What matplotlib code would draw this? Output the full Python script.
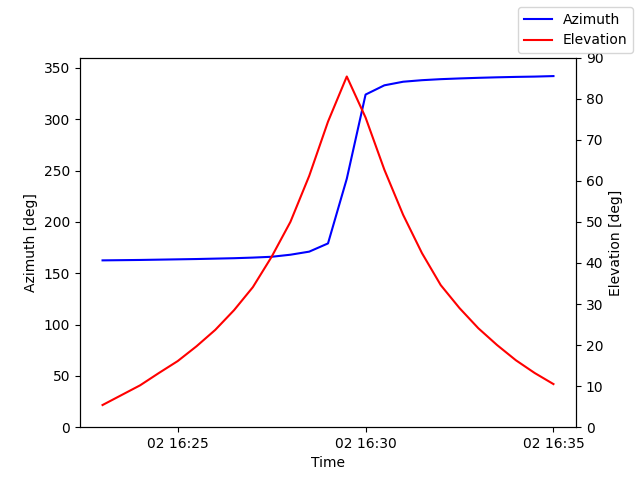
import numpy as np
import pandas as pd
import matplotlib
matplotlib.use('Agg')
import matplotlib.pyplot as plt
import matplotlib.dates as mdates

times = pd.date_range('2024-01-02 16:23:00', periods=25, freq='30s')
azimuth = [162.5, 162.7, 162.9, 163.2, 163.5, 163.8, 164.2, 164.6, 165.2, 166.0, 168.0, 171.0, 179.0,
           242.0, 324.0, 333.0, 336.5, 338.0, 339.0, 339.7, 340.3, 340.8, 341.2, 341.5, 342.0]
elevation = [5.4, 7.8, 10.2, 13.2, 16.1, 19.7, 23.7, 28.5, 34.1, 41.5, 50.0, 61.2, 74.4,
             85.4, 75.4, 62.7, 51.7, 42.4, 34.6, 29.0, 24.1, 20.0, 16.3, 13.2, 10.5]

fig, ax = plt.subplots(figsize=(6.4, 4.8))
ax.plot(times, azimuth, color='blue', label='Azimuth')
ax.set_ylim(0, 360)
ax.set_ylabel('Azimuth [deg]')
ax.set_xlabel('Time')
ax2 = ax.twinx()
ax2.plot(times, elevation, color='red', label='Elevation')
ax2.set_ylim(0, 90)
ax2.set_ylabel('Elevation [deg]')
ax.xaxis.set_major_locator(mdates.MinuteLocator(byminute=[25, 30, 35]))
ax.xaxis.set_major_formatter(mdates.DateFormatter('%d %H:%M'))
fig.legend(loc='upper right')
fig.savefig('out.png', dpi=100)
